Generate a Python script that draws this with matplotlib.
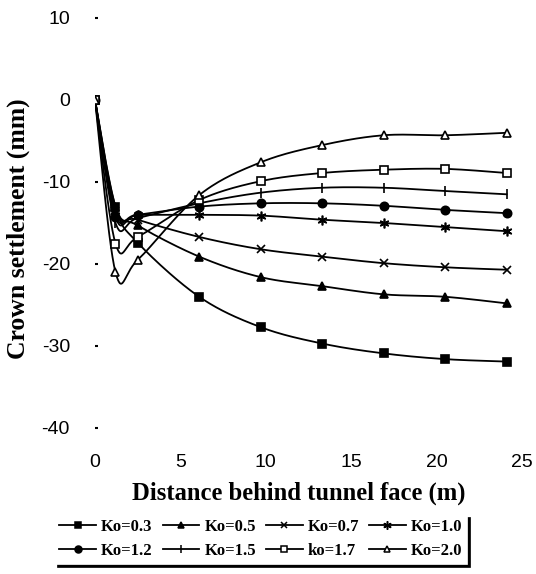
import numpy as np
import matplotlib
matplotlib.use("Agg")
import matplotlib.pyplot as plt
from matplotlib.lines import Line2D

plt.rcParams['axes.unicode_minus'] = False

# ---- data ----
distance = [0, 1.2, 2.5, 6.1, 9.7, 13.3, 16.9, 20.5, 24.1]
ko_labels = ["Ko=0.3", "Ko=0.5", "Ko=0.7", "Ko=1.0", "Ko=1.2", "Ko=1.5", "ko=1.7", "Ko=2.0"]
ko03 = [0, -13.0, -17.4, -24.0, -27.7, -29.7, -30.9, -31.6, -31.9]
ko05 = [0, -13.0, -15.3, -19.1, -21.6, -22.7, -23.7, -24.0, -24.8]
ko07 = [0, -13.5, -14.6, -16.7, -18.2, -19.1, -19.9, -20.4, -20.7]
ko10 = [0, -14.0, -14.0, -14.0, -14.1, -14.6, -15.0, -15.5, -16.0]
ko12 = [0, -14.3, -14.0, -13.0, -12.6, -12.6, -12.9, -13.4, -13.8]
ko15 = [0, -15.0, -14.4, -12.6, -11.3, -10.7, -10.7, -11.1, -11.5]
ko17 = [0, -17.5, -16.7, -12.2, -9.9, -8.9, -8.5, -8.4, -8.9]
ko20 = [0, -21.0, -19.5, -11.6, -7.6, -5.5, -4.3, -4.3, -4.0]
series = [ko03, ko05, ko07, ko10, ko12, ko15, ko17, ko20]

x_ticks = [0, 5, 10, 15, 20, 25]
y_ticks = [10, 0, -10, -20, -30, -40]

# ---- styles ----
markers = ['s', '^', 'x', (6, 2, 0), 'o', '|', 's', '^']
filled = [True, True, True, True, True, True, False, False]
msizes = [6, 6, 6, 7, 6, 7, 6, 6]


def smooth(xs, ys, n=30):
    """Excel-like smoothed line (Catmull-Rom as cubic Bezier)."""
    pts = np.column_stack([xs, ys]).astype(float)
    out = []
    m = len(pts)
    for i in range(m - 1):
        p0 = pts[i - 1] if i > 0 else pts[i]
        p1 = pts[i]
        p2 = pts[i + 1]
        p3 = pts[i + 2] if i + 2 < m else pts[i + 1]
        c1 = p1 + (p2 - p0) / 6.0
        c2 = p2 - (p3 - p1) / 6.0
        t = np.linspace(0, 1, n)[:, None]
        seg = ((1 - t) ** 3) * p1 + 3 * ((1 - t) ** 2) * t * c1 + 3 * (1 - t) * t ** 2 * c2 + t ** 3 * p2
        out.append(seg if i == 0 else seg[1:])
    seg = np.vstack(out)
    return seg[:, 0], seg[:, 1]


fig = plt.figure(figsize=(5.36, 5.74), dpi=100)
ax = fig.add_axes([95 / 536, 1 - 428 / 574, 427 / 536, (428 - 18) / 574])

handles = []
for ys, mk, fl, ms, lab in zip(series, markers, filled, msizes, ko_labels):
    sx, sy = smooth(distance, ys)
    ax.plot(sx, sy, color='black', lw=1.3, zorder=2)
    ax.plot(distance, ys, linestyle='none', marker=mk, markersize=ms,
            markerfacecolor='black' if fl else 'white', markeredgecolor='black',
            markeredgewidth=1.2, zorder=3)
    handles.append(Line2D([], [], color='black', lw=1.3, marker=mk, markersize=ms - 1,
                          markerfacecolor='black' if fl else 'white',
                          markeredgecolor='black', markeredgewidth=1.1, label=lab))

ax.set_xlim(0, 25)
ax.set_ylim(-40, 10)
ax.set_xticks(x_ticks)
ax.set_yticks(y_ticks)
for s in ax.spines.values():
    s.set_visible(False)
ax.tick_params(axis='x', length=0, pad=19, labelsize=14)
ax.tick_params(axis='y', length=2, width=1.5, direction='in', pad=18, labelsize=14)
for lbl in ax.get_xticklabels() + ax.get_yticklabels():
    lbl.set_fontfamily('Liberation Sans')

fig.text(18 / 536, 1 - 229 / 574, "Crown settlement (mm)", rotation=90,
         ha='center', va='center', fontsize=18.5, fontweight='bold', family='Liberation Serif')
fig.text(299 / 536, 1 - 493 / 574, "Distance behind tunnel face (m)",
         ha='center', va='center', fontsize=17.7, fontweight='bold', family='Liberation Serif')

order = [0, 4, 1, 5, 2, 6, 3, 7]
leg = fig.legend([handles[i] for i in order], [ko_labels[i] for i in order],
                 ncol=4, loc='upper left', bbox_to_anchor=(46 / 536, 1 - 506 / 574),
                 frameon=True, fancybox=False, shadow={'color': 'black', 'alpha': 1},
                 edgecolor='white', facecolor='white', framealpha=1,
                 handlelength=2.2, handletextpad=0.3,
                 columnspacing=0.6, labelspacing=0.45, borderpad=0.3,
                 prop={'family': 'Liberation Serif', 'weight': 'bold', 'size': 12})
leg.get_frame().set_linewidth(0.5)

fig.savefig("out.png", dpi=100)
